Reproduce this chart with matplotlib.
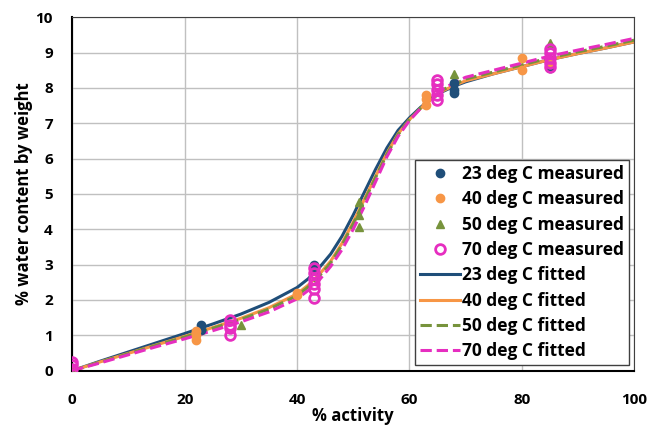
import numpy as np
import matplotlib.pyplot as plt

plt.rcParams['font.family'] = ['Open Sans', 'DejaVu Sans']
plt.rcParams['font.weight'] = 'bold'

# measured points
x23 = [0, 0, 23, 23, 43, 43, 68, 68, 68, 85, 85]
y23 = [0.0, 0.05, 1.28, 1.15, 3.0, 2.85, 8.15, 7.95, 7.85, 8.55, 8.65]
x40 = [0, 22, 22, 22, 40, 40, 63, 63, 63, 80, 80, 85]
y40 = [0.0, 0.88, 1.0, 1.12, 2.13, 2.2, 7.53, 7.68, 7.8, 8.52, 8.85, 8.7]
x50 = [0, 30, 51, 51, 51, 68, 85]
y50 = [0.0, 1.3, 4.77, 4.4, 4.06, 8.38, 9.28]
x70 = [0, 0, 0, 28, 28, 28, 28, 43, 43, 43, 43, 43, 43, 65, 65, 65, 65, 65, 85, 85, 85, 85, 85]
y70 = [0.05, 0.15, 0.25, 1.0, 1.2, 1.3, 1.42, 2.05, 2.3, 2.45, 2.6, 2.75, 2.9,
       7.65, 7.8, 7.95, 8.1, 8.22, 8.7, 8.85, 8.98, 9.1, 8.6]

# fitted curves
xfit = [0, 5, 10, 15, 20, 25, 30, 35, 40, 42, 44, 46, 48, 50, 52, 54, 56, 58, 60,
        62, 64, 66, 68, 70, 75, 80, 85, 90, 95, 100]
fit23 = [0, 0.27, 0.53, 0.79, 1.05, 1.32, 1.6, 1.93, 2.35, 2.6, 2.92, 3.3, 3.8, 4.4, 5.05, 5.7,
         6.3, 6.8, 7.15, 7.45, 7.7, 7.9, 8.05, 8.17, 8.4, 8.6, 8.8, 8.97, 9.13, 9.3]
fit40 = [0, 0.25, 0.49, 0.73, 0.97, 1.22, 1.48, 1.78, 2.17, 2.42, 2.73, 3.1, 3.6, 4.2, 4.85, 5.5,
         6.15, 6.7, 7.1, 7.42, 7.7, 7.92, 8.07, 8.2, 8.4, 8.6, 8.8, 8.97, 9.13, 9.3]
fit50 = [0, 0.24, 0.48, 0.72, 0.95, 1.2, 1.45, 1.74, 2.12, 2.37, 2.68, 3.05, 3.55, 4.15, 4.8, 5.47,
         6.12, 6.68, 7.1, 7.43, 7.72, 7.95, 8.1, 8.25, 8.45, 8.65, 8.85, 9.02, 9.18, 9.35]
fit70 = [0, 0.22, 0.45, 0.68, 0.9, 1.13, 1.38, 1.66, 2.03, 2.27, 2.57, 2.95, 3.42, 4.0, 4.65, 5.35,
         6.05, 6.63, 7.07, 7.42, 7.72, 7.97, 8.15, 8.3, 8.5, 8.7, 8.9, 9.07, 9.23, 9.4]

blue = '#1F4E79'
orange = '#F79646'
green = '#77933C'
pink = '#E62EC0'

fig = plt.figure(figsize=(6.51, 4.30), dpi=100)
ax = fig.add_axes([0.111, 0.138, 0.863, 0.822])

ax.plot(x23, y23, 'o', color=blue, markersize=6, label='23 deg C measured', zorder=3)
ax.plot(x40, y40, 'o', color=orange, markersize=6, label='40 deg C measured', zorder=3)
ax.plot(x50, y50, '^', color=green, markersize=6, label='50 deg C measured', zorder=3)
ax.plot(x70, y70, 'o', mfc='none', mec=pink, mew=2, markersize=7, label='70 deg C measured', zorder=4)

ax.plot(xfit, fit23, '-', color=blue, lw=2.2, label='23 deg C fitted', zorder=2)
ax.plot(xfit, fit40, '-', color=orange, lw=2.2, label='40 deg C fitted', zorder=2)
ax.plot(xfit, fit50, '--', color=green, lw=2.2, label='50 deg C fitted', zorder=2)
ax.plot(xfit, fit70, '--', color=pink, lw=2.2, label='70 deg C fitted', zorder=2)

ax.set_xlim(0, 100)
ax.set_ylim(0, 10)
ax.set_xticks(range(0, 101, 20))
ax.set_yticks(range(0, 11, 1))
ax.grid(True, color='#C0C0C0', lw=1)
ax.set_axisbelow(True)
ax.tick_params(length=0, labelsize=11)
ax.tick_params(axis='x', pad=16)
ax.tick_params(axis='y', pad=14)
for s in ax.spines.values():
    s.set_color('#404040')
ax.spines['left'].set_color('black')
ax.spines['bottom'].set_color('black')
ax.spines['left'].set_linewidth(1.5)
ax.spines['bottom'].set_linewidth(1.5)

ax.set_xlabel('% activity', fontsize=12, fontweight='bold', labelpad=0)
ax.set_ylabel('% water content by weight', fontsize=12, fontweight='bold', labelpad=2)

leg = ax.legend(loc='lower right', fontsize=12.5, frameon=True, fancybox=False,
                edgecolor='#404040', framealpha=1, borderaxespad=0.3, borderpad=0.3,
                handlelength=2.3, handletextpad=0.1, labelspacing=0.42)
leg.get_frame().set_linewidth(1)

fig.savefig('out.png', dpi=100)
